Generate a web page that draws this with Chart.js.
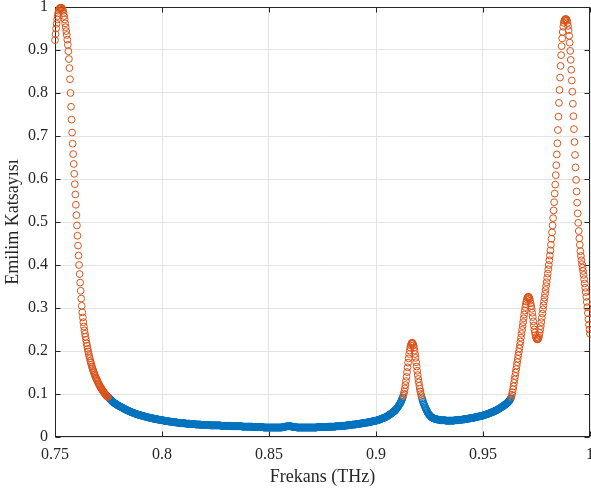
<!DOCTYPE html>
<html><head><meta charset="utf-8">
<script src="https://cdn.jsdelivr.net/npm/chart.js@4"></script>
<style>html,body{margin:0;padding:0;background:#fff}#wrap{width:591px;height:492px}</style>
</head><body><div id="wrap"><canvas id="c" width="591" height="492"></canvas></div>
<script>
const xTickValues = [0.75, 0.8, 0.85, 0.9, 0.95, 1];
const xTickLabels = ['0.75', '0.8', '0.85', '0.9', '0.95', '1'];
const yTickValues = [0, 0.1, 0.2, 0.3, 0.4, 0.5, 0.6, 0.7, 0.8, 0.9, 1];
const yTickLabels = ['0', '0.1', '0.2', '0.3', '0.4', '0.5', '0.6', '0.7', '0.8', '0.9', '1'];
const xTitle = 'Frekans (THz)';
const yTitle = 'Emilim Katsayısı';
const freqStart = 0.75;
const freqStep = 0.00025;
const threshold = 0.093;

// Emilim Katsayısı, one value per frequency sample (0.75 ... 1.00 THz)
const emilim = [
0.923,0.937,0.950,0.961,0.971,0.979,0.986,0.991,0.995,0.997,0.998,0.998,0.998,0.997,0.994,0.991,0.986,0.979,0.971,0.962,
0.953,0.944,0.935,0.924,0.912,0.897,0.879,0.858,0.832,0.800,0.768,0.738,0.708,0.682,0.658,0.635,0.612,0.588,0.564,0.540,
0.516,0.492,0.468,0.445,0.422,0.400,0.379,0.359,0.340,0.322,0.305,0.290,0.278,0.267,0.257,0.248,0.240,0.233,0.226,0.218,
0.212,0.205,0.199,0.193,0.188,0.183,0.177,0.173,0.168,0.164,0.160,0.156,0.152,0.149,0.145,0.142,0.139,0.136,0.133,0.131,
0.128,0.125,0.123,0.121,0.118,0.116,0.114,0.112,0.110,0.108,0.106,0.105,0.103,0.101,0.099,0.098,0.096,0.095,0.094,0.093,
0.092,0.091,0.089,0.088,0.087,0.086,0.084,0.083,0.082,0.081,0.080,0.079,0.078,0.077,0.077,0.076,0.075,0.074,0.073,0.073,
0.072,0.071,0.071,0.070,0.069,0.069,0.068,0.067,0.067,0.066,0.065,0.064,0.064,0.063,0.063,0.062,0.062,0.061,0.060,0.060,
0.059,0.059,0.058,0.058,0.057,0.057,0.056,0.056,0.055,0.055,0.054,0.054,0.053,0.053,0.053,0.052,0.052,0.051,0.051,0.051,
0.050,0.050,0.050,0.049,0.049,0.049,0.048,0.048,0.048,0.047,0.047,0.047,0.046,0.046,0.046,0.045,0.045,0.045,0.045,0.044,
0.044,0.044,0.043,0.043,0.043,0.043,0.042,0.042,0.042,0.042,0.041,0.041,0.041,0.041,0.040,0.040,0.040,0.040,0.039,0.039,
0.039,0.039,0.039,0.038,0.038,0.038,0.038,0.037,0.037,0.037,0.037,0.037,0.036,0.036,0.036,0.036,0.036,0.035,0.035,0.035,
0.035,0.035,0.035,0.034,0.034,0.034,0.034,0.034,0.034,0.033,0.033,0.033,0.033,0.033,0.033,0.032,0.032,0.032,0.032,0.032,
0.032,0.032,0.032,0.032,0.031,0.031,0.031,0.031,0.031,0.031,0.031,0.031,0.031,0.030,0.030,0.030,0.030,0.030,0.030,0.030,
0.030,0.030,0.030,0.029,0.029,0.029,0.029,0.029,0.029,0.029,0.029,0.029,0.029,0.028,0.028,0.028,0.028,0.028,0.028,0.028,
0.028,0.028,0.028,0.028,0.028,0.028,0.028,0.028,0.028,0.028,0.027,0.027,0.027,0.027,0.027,0.027,0.027,0.027,0.027,0.027,
0.027,0.027,0.027,0.027,0.027,0.027,0.027,0.027,0.027,0.027,0.026,0.026,0.026,0.026,0.026,0.026,0.026,0.026,0.026,0.026,
0.026,0.026,0.026,0.026,0.026,0.026,0.026,0.026,0.026,0.026,0.025,0.025,0.025,0.025,0.025,0.025,0.025,0.025,0.025,0.025,
0.025,0.025,0.025,0.025,0.025,0.025,0.025,0.025,0.025,0.025,0.024,0.024,0.024,0.024,0.024,0.024,0.024,0.024,0.024,0.024,
0.024,0.024,0.024,0.024,0.024,0.024,0.024,0.024,0.024,0.024,0.023,0.023,0.023,0.023,0.023,0.023,0.023,0.023,0.023,0.023,
0.023,0.023,0.023,0.023,0.023,0.023,0.023,0.023,0.023,0.023,0.022,0.022,0.022,0.022,0.022,0.022,0.022,0.022,0.022,0.022,
0.022,0.022,0.022,0.022,0.022,0.022,0.022,0.022,0.022,0.022,0.022,0.022,0.022,0.022,0.022,0.022,0.022,0.022,0.022,0.022,
0.022,0.022,0.022,0.022,0.022,0.023,0.023,0.023,0.023,0.024,0.024,0.024,0.024,0.025,0.025,0.025,0.025,0.025,0.025,0.025,
0.025,0.025,0.024,0.024,0.024,0.024,0.023,0.023,0.023,0.023,0.023,0.023,0.022,0.022,0.022,0.022,0.022,0.022,0.022,0.022,
0.022,0.022,0.022,0.022,0.022,0.022,0.022,0.022,0.022,0.022,0.022,0.022,0.022,0.022,0.022,0.022,0.022,0.022,0.022,0.022,
0.022,0.022,0.022,0.022,0.022,0.022,0.022,0.022,0.022,0.022,0.023,0.023,0.023,0.023,0.023,0.023,0.023,0.023,0.023,0.023,
0.023,0.023,0.023,0.023,0.023,0.023,0.023,0.023,0.023,0.023,0.024,0.024,0.024,0.024,0.024,0.024,0.024,0.024,0.024,0.024,
0.024,0.024,0.024,0.024,0.024,0.025,0.025,0.025,0.025,0.025,0.025,0.025,0.025,0.025,0.025,0.026,0.026,0.026,0.026,0.026,
0.026,0.026,0.026,0.026,0.027,0.027,0.027,0.027,0.027,0.027,0.028,0.028,0.028,0.028,0.028,0.028,0.029,0.029,0.029,0.029,
0.029,0.029,0.029,0.030,0.030,0.030,0.030,0.030,0.031,0.031,0.031,0.031,0.031,0.032,0.032,0.032,0.032,0.032,0.033,0.033,
0.033,0.033,0.033,0.034,0.034,0.034,0.034,0.035,0.035,0.035,0.035,0.036,0.036,0.036,0.036,0.037,0.037,0.037,0.037,0.038,
0.038,0.038,0.039,0.039,0.039,0.040,0.040,0.041,0.041,0.042,0.042,0.043,0.043,0.044,0.044,0.045,0.045,0.046,0.046,0.047,
0.048,0.048,0.049,0.050,0.051,0.052,0.053,0.053,0.054,0.055,0.056,0.057,0.058,0.059,0.060,0.061,0.062,0.064,0.065,0.067,
0.068,0.070,0.072,0.074,0.076,0.078,0.080,0.083,0.086,0.089,0.092,0.096,0.101,0.106,0.113,0.121,0.130,0.140,0.151,0.162,
0.173,0.183,0.193,0.201,0.208,0.213,0.217,0.219,0.219,0.217,0.213,0.208,0.201,0.193,0.184,0.174,0.164,0.154,0.144,0.135,
0.127,0.119,0.112,0.106,0.100,0.095,0.090,0.086,0.082,0.078,0.075,0.072,0.069,0.066,0.063,0.061,0.058,0.056,0.054,0.052,
0.051,0.050,0.048,0.047,0.046,0.045,0.044,0.044,0.043,0.043,0.042,0.042,0.042,0.041,0.041,0.041,0.040,0.040,0.040,0.040,
0.039,0.039,0.039,0.039,0.039,0.039,0.039,0.039,0.039,0.039,0.038,0.038,0.038,0.038,0.038,0.038,0.038,0.038,0.038,0.038,
0.038,0.038,0.038,0.038,0.038,0.038,0.038,0.039,0.039,0.039,0.039,0.039,0.039,0.039,0.040,0.040,0.040,0.040,0.040,0.040,
0.040,0.040,0.041,0.041,0.041,0.041,0.041,0.042,0.042,0.042,0.042,0.042,0.043,0.043,0.043,0.043,0.043,0.044,0.044,0.044,
0.044,0.044,0.045,0.045,0.045,0.046,0.046,0.046,0.047,0.047,0.047,0.047,0.048,0.048,0.048,0.048,0.049,0.049,0.049,0.050,
0.050,0.050,0.051,0.051,0.052,0.052,0.052,0.053,0.053,0.054,0.054,0.055,0.055,0.056,0.056,0.057,0.057,0.058,0.058,0.059,
0.059,0.060,0.060,0.061,0.062,0.062,0.063,0.064,0.064,0.065,0.066,0.067,0.067,0.068,0.069,0.070,0.071,0.071,0.072,0.073,
0.074,0.075,0.076,0.077,0.078,0.079,0.080,0.081,0.083,0.084,0.086,0.088,0.090,0.093,0.098,0.104,0.111,0.118,0.126,0.134,
0.142,0.150,0.158,0.166,0.174,0.182,0.190,0.198,0.206,0.214,0.222,0.231,0.240,0.249,0.258,0.267,0.276,0.285,0.294,0.302,
0.309,0.315,0.320,0.324,0.326,0.326,0.325,0.322,0.317,0.311,0.305,0.298,0.289,0.279,0.269,0.259,0.250,0.243,0.237,0.232,
0.229,0.227,0.227,0.228,0.231,0.236,0.242,0.250,0.258,0.267,0.277,0.287,0.297,0.306,0.315,0.324,0.333,0.342,0.351,0.360,
0.370,0.380,0.390,0.400,0.411,0.422,0.434,0.447,0.461,0.476,0.492,0.509,0.527,0.546,0.566,0.587,0.609,0.632,0.657,0.683,
0.714,0.745,0.777,0.807,0.836,0.863,0.888,0.909,0.927,0.942,0.954,0.963,0.968,0.970,0.972,0.972,0.971,0.968,0.963,0.956,
0.946,0.933,0.917,0.898,0.877,0.854,0.829,0.803,0.775,0.746,0.716,0.686,0.656,0.627,0.598,0.571,0.545,0.520,0.498,0.479,
0.462,0.447,0.432,0.421,0.411,0.402,0.394,0.386,0.377,0.367,0.357,0.347,0.337,0.326,0.314,0.302,0.288,0.274,0.261,0.250,
0.240
];

const frekans = emilim.map((_, i) => +(freqStart + i * freqStep).toFixed(5));
const points = frekans.map((f, i) => ({ x: f, y: emilim[i] }));
const highPts = points.filter(p => p.y >= threshold);
const lowPts = points.filter(p => p.y < threshold);

const FONT = "'Liberation Serif', 'Times New Roman', serif";
const TXT = '#262626';
Chart.defaults.font.family = FONT;
Chart.defaults.color = TXT;

const noPad = () => ({ left: 0, top: 0, right: 0, bottom: 0 });

const frame = {
  id: 'frame',
  beforeDatasetsDraw(chart) {
    const { ctx, chartArea: a, scales: { x, y } } = chart;
    ctx.save();
    ctx.strokeStyle = TXT;
    ctx.lineWidth = 1;
    const L = Math.round(a.left) + 0.5, R = Math.round(a.right) - 0.5;
    const T = Math.round(a.top) + 0.5, B = Math.round(a.bottom) - 0.5;
    ctx.strokeRect(L, T, R - L, B - T);
    ctx.beginPath();
    xTickValues.forEach(v => {
      const p = Math.round(x.getPixelForValue(v)) + 0.5;
      ctx.moveTo(p, B); ctx.lineTo(p, B - 5);
      ctx.moveTo(p, T); ctx.lineTo(p, T + 5);
    });
    yTickValues.forEach(v => {
      const p = Math.round(y.getPixelForValue(v)) + 0.5;
      ctx.moveTo(L, p); ctx.lineTo(L + 5, p);
      ctx.moveTo(R, p); ctx.lineTo(R - 5, p);
    });
    ctx.stroke();
    ctx.restore();
  }
};

new Chart(document.getElementById('c'), {
  type: 'scatter',
  data: {
    datasets: [
      { data: highPts, order: 0, clip: false, pointStyle: 'circle', pointRadius: 3.4, pointBorderWidth: 1,
        pointBorderColor: '#D95319', pointBackgroundColor: 'rgba(0,0,0,0)' },
      { data: lowPts, order: 1, clip: false, pointStyle: 'circle', pointRadius: 3.4, pointBorderWidth: 1,
        pointBorderColor: '#0072BD', pointBackgroundColor: 'rgba(0,0,0,0)' }
    ]
  },
  options: {
    responsive: false,
    animation: false,
    devicePixelRatio: 1,
    layout: { autoPadding: false, padding: { top: 7, right: 1, left: 0, bottom: 0 } },
    plugins: { legend: { display: false }, tooltip: { enabled: false } },
    scales: {
      x: {
        type: 'linear', min: 0.75, max: 1,
        afterBuildTicks: s => { s.ticks = xTickValues.map(v => ({ value: v })); },
        afterFit: s => { s.height = 55; s.paddingLeft = 0; s.paddingRight = 0; s.getPadding = noPad; },
        ticks: { padding: 8, color: TXT, font: { size: 16 }, maxRotation: 0, autoSkip: false,
          callback: (v) => { const k = xTickValues.findIndex(t => Math.abs(t - v) < 1e-9); return k >= 0 ? xTickLabels[k] : ''; } },
        grid: { color: '#e3e3e3', drawTicks: false, lineWidth: 1 },
        border: { display: false },
        title: { display: true, text: xTitle, color: TXT, font: { size: 18 }, padding: { top: 0, bottom: 4 } }
      },
      y: {
        type: 'linear', min: 0, max: 1,
        afterBuildTicks: s => { s.ticks = yTickValues.map(v => ({ value: v })); },
        afterFit: s => { s.width = 55; s.paddingTop = 0; s.paddingBottom = 0; s.getPadding = noPad; },
        ticks: { padding: 7, color: TXT, font: { size: 16 }, autoSkip: false,
          callback: (v) => { const k = yTickValues.findIndex(t => Math.abs(t - v) < 1e-9); return k >= 0 ? yTickLabels[k] : ''; } },
        grid: { color: '#e3e3e3', drawTicks: false, lineWidth: 1 },
        border: { display: false },
        title: { display: true, text: yTitle, color: TXT, font: { size: 18 }, padding: { top: 2, bottom: 0 } }
      }
    }
  },
  plugins: [frame]
});
</script>
</body></html>
